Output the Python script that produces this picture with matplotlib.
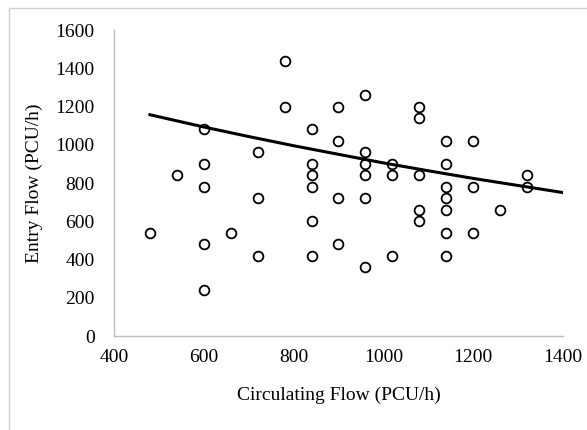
import numpy as np
import matplotlib
matplotlib.use('Agg')
import matplotlib.pyplot as plt
from matplotlib.patches import Rectangle

# circulating flow vs entry flow (PCU/h)
circ_flow = [480, 540,
             600, 600, 600, 600, 600,
             660,
             720, 720, 720,
             780, 780,
             840, 840, 840, 840, 840, 840,
             900, 900, 900, 900,
             960, 960, 960, 960, 960, 960,
             1020, 1020, 1020,
             1080, 1080, 1080, 1080, 1080,
             1140, 1140, 1140, 1140, 1140, 1140, 1140,
             1200, 1200, 1200,
             1260,
             1320, 1320]
entry_flow = [540, 840,
              1080, 900, 780, 480, 240,
              540,
              960, 720, 420,
              1440, 1200,
              1080, 900, 840, 780, 600, 420,
              1200, 1020, 720, 480,
              1260, 960, 900, 840, 720, 360,
              900, 840, 420,
              1200, 1140, 840, 660, 600,
              1020, 900, 780, 720, 660, 540, 420,
              1020, 780, 540,
              660,
              840, 780]

# trendline as drawn in the chart (slightly curved, exponential-like)
trend_x = [480, 600, 700, 800, 900, 1000, 1100, 1200, 1300, 1397]
trend_y = [1157, 1093, 1043, 995, 950, 905, 864, 824, 787, 751]

x_ticks = [400, 600, 800, 1000, 1200, 1400]
y_ticks = [0, 200, 400, 600, 800, 1000, 1200, 1400, 1600]

plt.rcParams['font.family'] = ['Liberation Serif', 'DejaVu Serif']

fig = plt.figure(figsize=(5.87, 4.30), dpi=100)
ax = fig.add_axes([0.1942, 0.2186, 0.7649, 0.7116])

ax.plot(circ_flow, entry_flow, 'o', markersize=7, markerfacecolor='none',
        markeredgecolor='black', markeredgewidth=1.3, linestyle='none')
ax.plot(trend_x, trend_y, color='black', linewidth=2.2)

ax.set_xlim(400, 1400)
ax.set_ylim(0, 1600)
ax.set_xticks(x_ticks)
ax.set_yticks(y_ticks)
ax.tick_params(length=0, labelsize=14)
ax.tick_params(axis='y', pad=14)
ax.tick_params(axis='x', pad=9)
for s in ['top', 'right']:
    ax.spines[s].set_visible(False)
for s in ['left', 'bottom']:
    ax.spines[s].set_color('#bfbfbf')
    ax.spines[s].set_linewidth(1.0)

ax.set_xlabel('Circulating Flow (PCU/h)', fontsize=14, labelpad=15)
ax.set_ylabel('Entry Flow (PCU/h)', fontsize=14, labelpad=9)

# chart area border
fig.patches.append(Rectangle((9 / 587, -0.05), 1.1, 1 - 8 / 430 + 0.05,
                             transform=fig.transFigure, fill=False,
                             edgecolor='#d0d0d0', linewidth=1.0))

fig.savefig('out.png', dpi=100)
